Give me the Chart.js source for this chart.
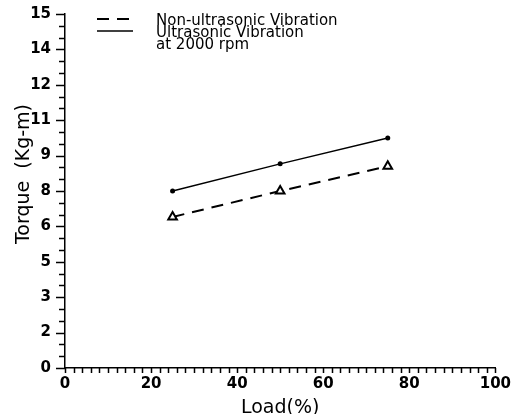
<!DOCTYPE html>
<html>
<head>
<meta charset="utf-8">
<script src="https://cdn.jsdelivr.net/npm/chart.js@4/dist/chart.umd.min.js"></script>
<style>
  html, body { margin: 0; padding: 0; background: #fff; }
  #wrap { width: 511px; height: 414px; }
</style>
</head>
<body>
<div id="wrap"><canvas id="chart" width="511" height="414"></canvas></div>
<script>
// data
const loads = [25, 50, 75];
const torqueNonUltrasonic = [6.4, 7.5, 8.55];
const torqueUltrasonic = [7.5, 8.65, 9.75];

const seriesLabels = [
    ['Non-ultrasonic Vibration'],
    ['Ultrasonic Vibration', 'at 2000 rpm']
];
const xTitle = 'Load(%)';
const yTitle = 'Torque  (Kg-m)';

const FONT = '"DejaVu Sans", "Liberation Sans", sans-serif';

function toPoints(ys) {
    return loads.map((x, i) => ({ x: x, y: ys[i] }));
}

function isMultiple(v, step) {
    const r = v / step;
    return Math.abs(r - Math.round(r)) < 1e-6;
}

// tick marks: long for labelled ticks, short for the rest
const tickMarks = {
    id: 'tickMarks',
    afterDraw(chart) {
        const ctx = chart.ctx;
        const area = chart.chartArea;
        const xs = chart.scales.x;
        const ys = chart.scales.y;
        ctx.save();
        ctx.strokeStyle = '#000';
        ctx.lineWidth = 1.5;
        ctx.beginPath();
        ys.ticks.forEach(t => {
            const py = Math.round(ys.getPixelForValue(t.value)) + 0.5;
            const len = isMultiple(t.value, 1.5) ? 9 : 6;
            ctx.moveTo(area.left - len, py);
            ctx.lineTo(area.left, py);
        });
        xs.ticks.forEach(t => {
            const px = Math.round(xs.getPixelForValue(t.value)) + 0.5;
            ctx.moveTo(px, area.bottom);
            ctx.lineTo(px, area.bottom + 5);
        });
        ctx.stroke();
        ctx.restore();
    }
};

// legend drawn inside the plot, top left
const innerLegend = {
    id: 'innerLegend',
    afterDraw(chart) {
        const ctx = chart.ctx;
        ctx.save();
        ctx.font = '15px ' + FONT;
        ctx.fillStyle = '#000';
        ctx.textBaseline = 'middle';
        const rows = [21, 33];
        chart.data.datasets.forEach((ds, i) => {
            const y = rows[i];
            ctx.strokeStyle = '#000';
            ctx.lineWidth = ds.borderWidth;
            ctx.setLineDash(ds.borderDash || []);
            ctx.beginPath();
            ctx.moveTo(97, y - 2);
            ctx.lineTo(133, y - 2);
            ctx.stroke();
            ctx.setLineDash([]);
            ds.label.forEach((line, j) => {
                ctx.fillText(line, 156, y + j * 12.5);
            });
        });
        ctx.restore();
    }
};

// y axis title placed like the original
const yAxisTitle = {
    id: 'yAxisTitle',
    afterDraw(chart) {
        const ctx = chart.ctx;
        ctx.save();
        ctx.font = '19px ' + FONT;
        ctx.fillStyle = '#000';
        ctx.textAlign = 'center';
        ctx.textBaseline = 'middle';
        ctx.translate(24, 174);
        ctx.rotate(-Math.PI / 2);
        ctx.fillText(yTitle, 0, 0);
        ctx.restore();
    }
};

new Chart(document.getElementById('chart'), {
    type: 'line',
    data: {
        datasets: [
            {
                label: seriesLabels[0],
                data: toPoints(torqueNonUltrasonic),
                borderColor: '#000',
                borderWidth: 2,
                borderDash: [12, 8],
                pointStyle: 'triangle',
                pointRadius: 5,
                pointBorderWidth: 2,
                pointBorderColor: '#000',
                pointBackgroundColor: '#fff',
                tension: 0
            },
            {
                label: seriesLabels[1],
                data: toPoints(torqueUltrasonic),
                borderColor: '#000',
                borderWidth: 1.5,
                pointStyle: 'circle',
                pointRadius: 2.5,
                pointBorderWidth: 0,
                pointBackgroundColor: '#000',
                tension: 0
            }
        ]
    },
    options: {
        responsive: false,
        animation: false,
        layout: { padding: { top: 14, right: 0, left: 0, bottom: 0 } },
        plugins: {
            legend: { display: false },
            tooltip: { enabled: false }
        },
        scales: {
            x: {
                type: 'linear',
                min: 0,
                max: 100,
                afterFit(scale) { scale.height = 46; },
                border: { display: true, color: '#000', width: 1.5 },
                grid: { display: true, drawOnChartArea: false, drawTicks: true, tickLength: 7, tickColor: 'rgba(0,0,0,0)' },
                ticks: {
                    stepSize: 2,
                    autoSkip: false,
                    maxRotation: 0,
                    padding: 0,
                    color: '#000',
                    font: { family: FONT, size: 15, weight: 'bold' },
                    callback: v => isMultiple(v, 20) ? String(Math.round(v)) : ''
                },
                title: {
                    display: true,
                    text: xTitle,
                    color: '#000',
                    font: { family: FONT, size: 19, lineHeight: 0.6 },
                    padding: { top: 0, bottom: 0 }
                }
            },
            y: {
                min: 0,
                max: 15,
                afterFit(scale) { scale.width = 65; },
                border: { display: true, color: '#000', width: 1.5 },
                grid: { display: true, drawOnChartArea: false, drawTicks: true, tickLength: 12, tickColor: 'rgba(0,0,0,0)' },
                ticks: {
                    stepSize: 0.5,
                    autoSkip: false,
                    padding: 2,
                    color: '#000',
                    font: { family: FONT, size: 15, weight: 'bold' },
                    callback: v => isMultiple(v, 1.5) ? String(Math.round(v)) : ''
                }
            }
        }
    },
    plugins: [tickMarks, innerLegend, yAxisTitle]
});
</script>
</body>
</html>
